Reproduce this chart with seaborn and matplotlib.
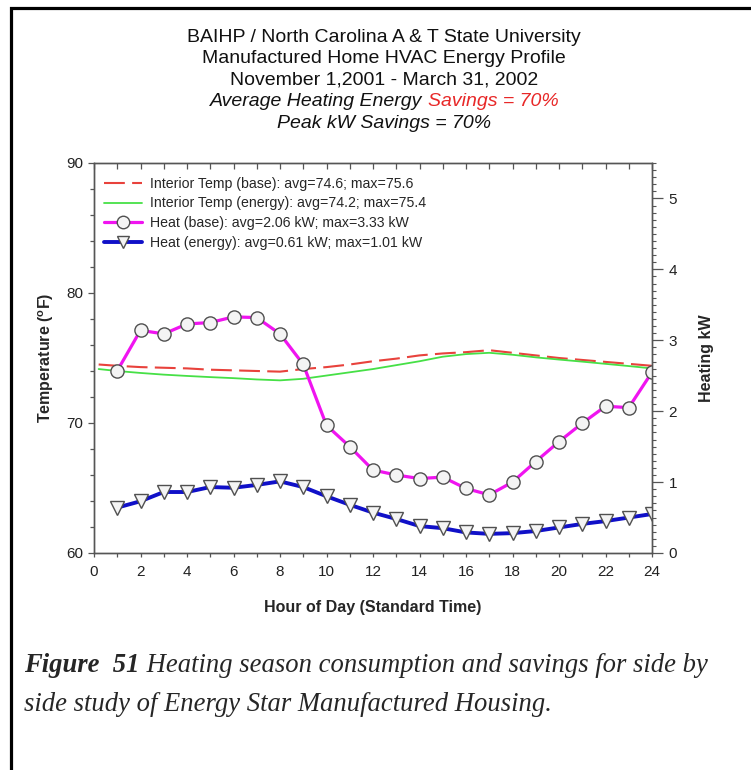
import matplotlib
matplotlib.use("Agg")
import matplotlib.pyplot as plt
import seaborn as sns
import pandas as pd
from matplotlib.lines import Line2D
from matplotlib.patches import Rectangle
from matplotlib.ticker import MultipleLocator

sns.set_theme(style="white")
plt.rcParams["font.family"] = ["Liberation Sans", "DejaVu Sans"]
plt.rcParams["mathtext.fontset"] = "custom"
plt.rcParams["mathtext.rm"] = "Liberation Sans"
plt.rcParams["mathtext.bf"] = "Liberation Sans:bold"

# Interior temperatures (deg F) by hour of day
temp_hours = [0.2, 1, 2, 3, 4, 5, 6, 7, 8, 9, 10, 11, 12, 13, 14, 15, 16, 17,
              18, 19, 20, 21, 22, 23, 24]
temp_base = [74.5, 74.4, 74.3, 74.25, 74.2, 74.1, 74.05, 74.0, 73.95, 74.15,
             74.3, 74.5, 74.75, 74.95, 75.2, 75.35, 75.45, 75.6, 75.4, 75.2,
             75.0, 74.85, 74.7, 74.55, 74.4]
temp_energy = [74.15, 74.0, 73.85, 73.72, 73.62, 73.53, 73.45, 73.35, 73.28,
               73.4, 73.65, 73.9, 74.15, 74.45, 74.75, 75.1, 75.3, 75.4, 75.25,
               75.05, 74.88, 74.72, 74.55, 74.38, 74.2]

# Heating demand (kW) by hour of day
heat_hours = list(range(1, 25))
heat_base = [2.57, 3.14, 3.09, 3.23, 3.25, 3.33, 3.32, 3.09, 2.66, 1.80, 1.50,
             1.17, 1.10, 1.05, 1.07, 0.91, 0.82, 1.00, 1.29, 1.57, 1.83, 2.07,
             2.05, 2.55]
heat_energy = [0.64, 0.73, 0.86, 0.86, 0.93, 0.92, 0.96, 1.01, 0.93, 0.80, 0.68,
               0.57, 0.48, 0.38, 0.35, 0.29, 0.27, 0.28, 0.31, 0.36, 0.41, 0.45,
               0.50, 0.55]

series_labels = [
    "Interior Temp (base): avg=74.6; max=75.6",
    "Interior Temp (energy): avg=74.2; max=75.4",
    "Heat (base): avg=2.06 kW; max=3.33 kW",
    "Heat (energy): avg=0.61 kW; max=1.01 kW",
]
title_lines = [
    "BAIHP / North Carolina A & T State University",
    "Manufactured Home HVAC Energy Profile",
    "November 1,2001 - March 31, 2002",
]
caption_bold = "Figure  51"
caption_rest = [" Heating season consumption and savings for side by",
                "side study of Energy Star Manufactured Housing."]

RED = "#e8423c"
GREEN = "#46e046"
MAGENTA = "#f014f0"
BLUE = "#1010c8"
W, H = 751, 770

fig = plt.figure(figsize=(W / 100, H / 100), dpi=100)
ax = fig.add_axes([94 / W, (H - 553) / H, 558 / W, 390 / H])
ax2 = ax.twinx()

temp_df = pd.DataFrame({"hour": temp_hours, "base": temp_base,
                        "energy": temp_energy})
heat_df = pd.DataFrame({"hour": heat_hours, "base": heat_base,
                        "energy": heat_energy})

sns.lineplot(data=temp_df, x="hour", y="base", ax=ax, color=RED, lw=1.5)
ax.lines[-1].set_dashes([10, 3.5])
sns.lineplot(data=temp_df, x="hour", y="energy", ax=ax, color=GREEN, lw=1.3)

mk = dict(markerfacecolor="#f4f4f4", markeredgecolor="#505050",
          markeredgewidth=1.0)
sns.lineplot(data=heat_df, x="hour", y="base", ax=ax2, color=MAGENTA, lw=2.3,
             marker="o", markersize=9.5, **mk)
sns.lineplot(data=heat_df, x="hour", y="energy", ax=ax2, color=BLUE, lw=2.8,
             marker="v", markersize=10, **mk)

# Axes ranges and ticks
ax.set_xlim(0, 24)
ax.set_ylim(60, 90)
ax2.set_ylim(0, 5.5)
ax.xaxis.set_major_locator(MultipleLocator(2))
ax.xaxis.set_minor_locator(MultipleLocator(1))
ax.yaxis.set_major_locator(MultipleLocator(10))
ax.yaxis.set_minor_locator(MultipleLocator(2))
ax2.yaxis.set_major_locator(MultipleLocator(1))
ax2.yaxis.set_minor_locator(MultipleLocator(0.1))

spine_c = "#555555"
for a in (ax, ax2):
    for s in a.spines.values():
        s.set_color(spine_c)
        s.set_linewidth(1.0)
ax.tick_params(axis="x", which="both", bottom=True, top=False,
               direction="out", length=3, width=0.9, color=spine_c,
               labelsize=11, pad=6, labelcolor="#222222")
ax.tick_params(axis="y", which="major", left=True, direction="out", length=4,
               width=0.9, color=spine_c, labelsize=11, labelcolor="#222222",
               pad=4)
ax.tick_params(axis="y", which="minor", left=True, direction="out", length=3,
               width=0.9, color=spine_c)
ax2.tick_params(axis="y", which="major", right=True, direction="out",
                length=8, width=0.9, color=spine_c, labelsize=11,
                labelcolor="#222222", pad=4)
ax2.tick_params(axis="y", which="minor", right=True, direction="out",
                length=3, width=0.8, color=spine_c)
ax.set_xticklabels([str(int(v)) for v in ax.get_xticks()])

# Inward hour ticks along the top edge
top = ax.secondary_xaxis("top")
top.xaxis.set_major_locator(MultipleLocator(1))
top.tick_params(direction="in", length=4, width=0.9, color=spine_c,
                labeltop=False)
top.spines["top"].set_visible(False)

ax.set_xlabel("Hour of Day (Standard Time)", fontsize=11.5,
              fontweight="bold", labelpad=15)
ax.set_ylabel(r"Temperature ($^{\mathbf{o}}$F)", fontsize=11.5,
              fontweight="bold", labelpad=7)
ax2.set_ylabel("Heating kW", fontsize=11.5, fontweight="bold", labelpad=16)

# Legend
handles = [
    Line2D([], [], color=RED, lw=1.5, dashes=[10, 3.5]),
    Line2D([], [], color=GREEN, lw=1.3),
    Line2D([], [], color=MAGENTA, lw=2.3, marker="o", markersize=9, **mk),
    Line2D([], [], color=BLUE, lw=2.8, marker="v", markersize=9, **mk),
]
ax2.legend(handles, series_labels, loc="upper left", frameon=False,
           fontsize=10.2, handlelength=2.7, handletextpad=0.55,
           labelspacing=0.4, borderaxespad=0.3, bbox_to_anchor=(0.0, 0.99))

# Titles
cx = 384 / W
TS = 14
for i, line in enumerate(title_lines):
    fig.text(cx, 1 - (37 + 21.5 * i) / H, line, ha="center", va="center",
             fontsize=TS, color="#111111")
fig.canvas.draw()
r = fig.canvas.get_renderer()

part_a = fig.text(0, 1 - 102 / H, "Average Heating Energy ", ha="left",
                  va="center", fontsize=TS, style="italic", color="#111111")
part_b = fig.text(0, 1 - 102 / H, "Savings = 70%", ha="left", va="center",
                  fontsize=TS, style="italic", color="#e82828")
wa = part_a.get_window_extent(r).width
wb = part_b.get_window_extent(r).width
x0 = 384 - (wa + wb) / 2
part_a.set_x(x0 / W)
part_b.set_x((x0 + wa) / W)
fig.text(cx, 1 - 123 / H, "Peak kW Savings = 70%", ha="center", va="center",
         fontsize=TS, style="italic", color="#111111")

# Caption
cap_font = ["Liberation Serif", "DejaVu Serif"]
CS = 19.2
cap1 = fig.text(24 / W, 1 - 672 / H, caption_bold, ha="left",
                va="baseline", fontsize=CS, family=cap_font,
                style="italic", weight="bold")
w1 = cap1.get_window_extent(r).width
fig.text((24 + w1) / W, 1 - 672 / H, caption_rest[0], ha="left",
         va="baseline", fontsize=CS, family=cap_font, style="italic")
fig.text(24 / W, 1 - 711 / H, caption_rest[1], ha="left", va="baseline",
         fontsize=CS, family=cap_font, style="italic")

# Page frame
fig.patches.append(Rectangle((10.5 / W, -0.2), 2.0, 1.2 - 8 / H,
                             transform=fig.transFigure, fill=False,
                             lw=2.3, edgecolor="black"))

fig.savefig("out.png", dpi=100)
